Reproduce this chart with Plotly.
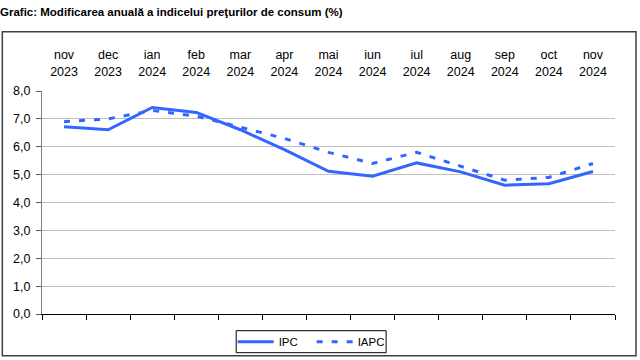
import plotly.graph_objects as go

months = ["nov", "dec", "ian", "feb", "mar", "apr", "mai", "iun", "iul", "aug", "sep", "oct", "nov"]
years = ["2023", "2023", "2024", "2024", "2024", "2024", "2024", "2024", "2024", "2024", "2024", "2024", "2024"]
categories = [f"{m}<br>{y}" for m, y in zip(months, years)]

ipc = [6.72, 6.61, 7.41, 7.23, 6.61, 5.90, 5.12, 4.94, 5.42, 5.10, 4.62, 4.67, 5.11]
iapc = [6.9, 7.0, 7.3, 7.1, 6.7, 6.3, 5.8, 5.4, 5.8, 5.3, 4.8, 4.9, 5.4]

title_text = "Grafic: Modificarea anuală a indicelui preţurilor de consum (%)"
blue = "#3366ff"
font = "Liberation Sans, Arial, sans-serif"

fig = go.Figure()
fig.add_trace(go.Scatter(x=categories, y=ipc, name="IPC", mode="lines",
                         line=dict(color=blue, width=3)))
fig.add_trace(go.Scatter(x=categories, y=iapc, name="IAPC", mode="lines",
                         line=dict(color=blue, width=3, dash="6px,9px")))

L, R, T, B = 41.7, 615.0, 91.3, 314.3
W, H = 640, 360
pw, ph = R - L, B - T

def px(x):
    return (x - L) / pw

def py(y):
    return (B - y) / ph

n = len(categories)

fig.update_layout(
    width=W, height=H,
    margin=dict(l=L, r=W - R, t=T, b=H - B, pad=0, autoexpand=False),
    paper_bgcolor="white", plot_bgcolor="white",
    separators=", ",
    font=dict(family=font, size=12, color="black"),
    showlegend=True,
    legend=dict(orientation="h", x=px(311.5), xanchor="center", y=py(342), yanchor="middle",
                bordercolor="rgba(0,0,0,0)", borderwidth=0, bgcolor="rgba(0,0,0,0)",
                font=dict(family=font, size=11.5), itemwidth=36, entrywidth=28,
                entrywidthmode="pixels", tracegroupgap=0),
    xaxis=dict(type="category", range=[-0.5, n - 0.5], showticklabels=False, ticks="outside",
               tickson="boundaries", ticklen=5, tickcolor="black", tickwidth=1, showline=True,
               linecolor="black", linewidth=1, showgrid=False, zeroline=False, automargin=False),
    xaxis2=dict(type="category", overlaying="x", matches="x", side="top", ticks="",
                showline=False, showgrid=False, ticklabelstandoff=12, automargin=False,
                tickfont=dict(family=font, size=12.5, color="black"),
                tickvals=categories, ticktext=categories),
    yaxis=dict(range=[0, 8], dtick=1, tickformat=".1f", ticks="outside", ticklen=5,
               tickcolor="#555555", showline=True, linecolor="#808080", linewidth=1,
               showgrid=True, gridcolor="#c0c0c0", gridwidth=1, zeroline=False, automargin=False,
               tickfont=dict(family=font, size=12.5, color="black"), ticklabelstandoff=3),
    shapes=[dict(type="rect", xref="paper", yref="paper",
                 x0=px(2), x1=px(636), y0=py(356), y1=py(32),
                 line=dict(color="#404040", width=1.5), fillcolor="rgba(0,0,0,0)", layer="below"),
            dict(type="rect", xref="paper", yref="paper",
                 x0=px(236), x1=px(386), y0=py(353), y1=py(331),
                 line=dict(color="black", width=1), fillcolor="white", layer="below")],
    annotations=[dict(text=f"<b>{title_text}</b>", xref="paper", yref="paper",
                      x=px(-2), y=py(12), xanchor="left", yanchor="middle", showarrow=False,
                      font=dict(family=font, size=11.5, color="black"))],
)
# invisible trace to activate the top category axis
fig.add_trace(go.Scatter(x=categories, y=ipc, xaxis="x2", mode="lines", showlegend=False,
                         hoverinfo="skip", line=dict(color="rgba(0,0,0,0)", width=0)))

fig.write_html("out.html", config={"displayModeBar": False},
               post_script="document.body.style.margin='0';document.body.style.overflow='hidden';")
